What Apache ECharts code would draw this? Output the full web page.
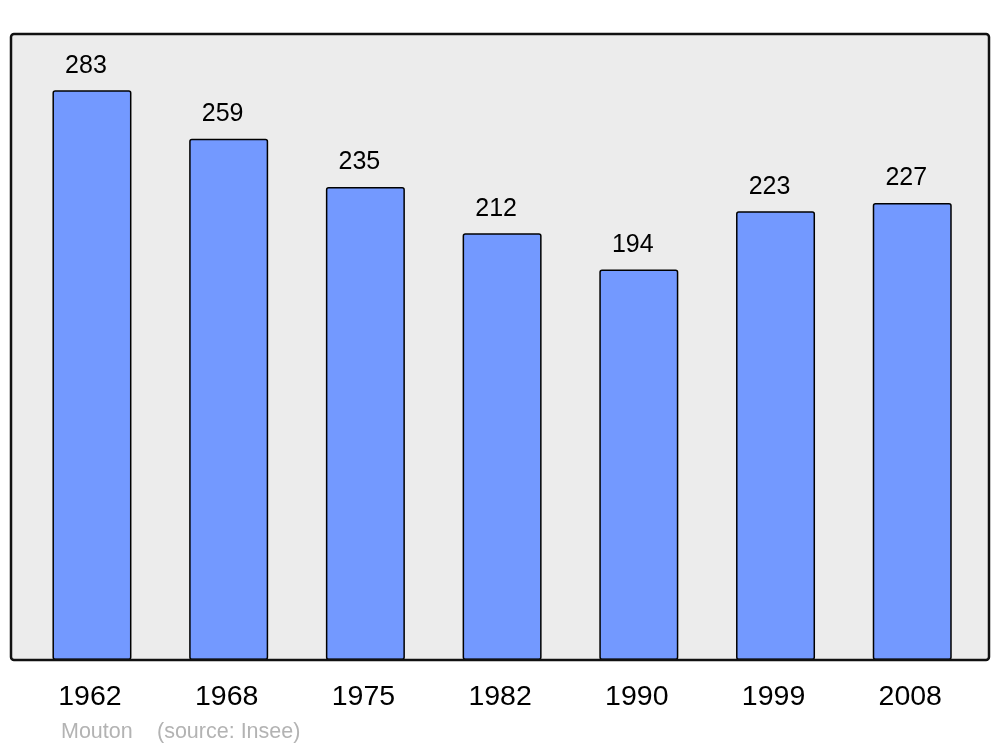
<!DOCTYPE html>
<html>
<head>
<meta charset="utf-8">
<script src="https://cdn.jsdelivr.net/npm/echarts@6/dist/echarts.min.js"></script>
<style>
html,body{margin:0;padding:0;background:#fff;}
#c{width:1000px;height:747px;}
</style>
</head>
<body>
<div id="c"></div>
<script>
const years = ['1962','1968','1975','1982','1990','1999','2008'];
const population = [283, 259, 235, 212, 194, 223, 227];
const townName = 'Mouton';
const sourceText = '(source: Insee)';

const chart = echarts.init(document.getElementById('c'), null, {renderer:'canvas'});
chart.setOption({
  animation: false,
  backgroundColor: '#ffffff',
  textStyle: {fontFamily: 'Liberation Sans, Arial, sans-serif'},
  grid: {left: 23.6, right: 19.4, top: 34, bottom: 87, containLabel: false},
  xAxis: {
    type: 'category',
    data: years,
    axisLine: {show: false},
    axisTick: {show: false},
    axisLabel: {color: '#000', fontSize: 28.5, margin: 23, padding: [0, 4, 0, 0], fontFamily: 'Liberation Sans, Arial, sans-serif'}
  },
  yAxis: {
    type: 'value', min: 0, max: 311,
    show: false,
    splitLine: {show: false}
  },
  graphic: [
    {type: 'rect', z: -10, shape: {x: 11, y: 34, width: 978, height: 626, r: 3},
     style: {fill: '#ececec', stroke: 'none'}},
    {type: 'rect', z: 100, shape: {x: 11, y: 34, width: 978, height: 626, r: 3},
     style: {fill: 'none', stroke: '#111', lineWidth: 2.5}},
    {type: 'text', left: 61, top: 721, style: {text: townName, fill: '#b3b3b3', fontSize: 21.5, fontFamily: 'Liberation Sans, Arial, sans-serif'}},
    {type: 'text', left: 157, top: 721, style: {text: sourceText, fill: '#b3b3b3', fontSize: 21.5, fontFamily: 'Liberation Sans, Arial, sans-serif'}}
  ],
  series: [{
    type: 'bar',
    data: population,
    barWidth: 79,
    itemStyle: {color: '#7399ff', borderColor: '#000', borderWidth: 1.5, borderRadius: 2},
    label: {
      show: true, position: 'top', distance: 12, offset: [-6, 0],
      color: '#000', fontSize: 25, fontFamily: 'Liberation Sans, Arial, sans-serif'
    }
  }]
});
</script>
</body>
</html>
